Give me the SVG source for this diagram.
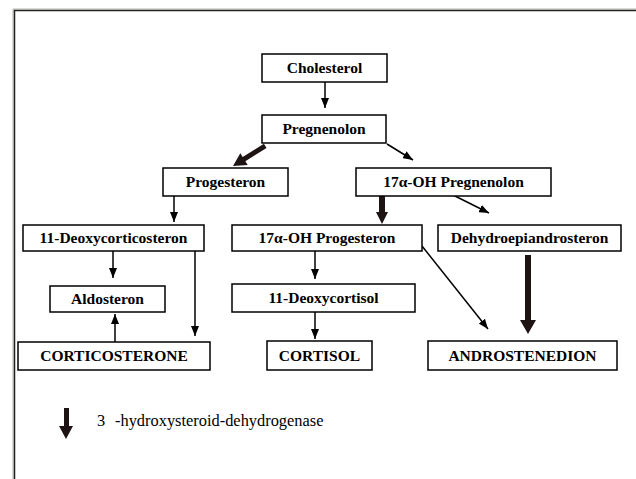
<svg xmlns="http://www.w3.org/2000/svg" width="636" height="479" viewBox="0 0 636 479">
<style>
.box{fill:#fff;stroke:#000;stroke-width:1.5}
.lbl{font-family:"Liberation Serif","Times New Roman",serif;font-weight:bold;font-size:15.5px;text-anchor:middle;fill:#000}
.leg{font-family:"Liberation Serif","Times New Roman",serif;font-size:16.4px;fill:#000}
.thin{stroke:#000;stroke-width:1.5;fill:none;marker-end:url(#ah)}
.thick{fill:#1e1414}
</style>
<defs>
<marker id="ah" markerUnits="userSpaceOnUse" markerWidth="10" markerHeight="8" refX="10" refY="4" orient="auto">
<path d="M0,0 L10,4 L0,8 z" fill="#000"/>
</marker>
</defs>
<rect width="636" height="479" fill="#fff"/>
<g id="frame">
<path d="M13,479 V9 H636" fill="none" stroke="#b8b4ac" stroke-width="1"/>
<path d="M14.5,479 V10.5 H636" fill="none" stroke="#222" stroke-width="1.5"/>
</g>
<g id="connectors">
<line class="thin" x1="325" y1="82" x2="325" y2="108"/>
<polygon class="thick" transform="translate(233,166) rotate(148)" points="-38,-2.5 -13,-2.5 -13,-7 0,0 -13,7 -13,2.5 -38,2.5"/>
<line class="thin" x1="387" y1="144" x2="413" y2="160"/>
<line class="thin" x1="174" y1="196" x2="174" y2="222"/>
<polygon class="thick" points="379,196 385,196 385,212 388,212 382,224 376,212 379,212"/>
<line class="thin" x1="451" y1="194" x2="489" y2="213"/>
<line class="thin" x1="113" y1="251" x2="113" y2="278"/>
<line class="thin" x1="115" y1="342" x2="115" y2="314"/>
<line class="thin" x1="195" y1="251" x2="195" y2="336"/>
<line class="thin" x1="315" y1="251" x2="315" y2="279"/>
<line class="thin" x1="315" y1="312" x2="315" y2="339"/>
<line class="thin" x1="422" y1="246" x2="488" y2="329"/>
<polygon class="thick" points="525,255 531,255 531,320 536,320 528,334 520,320 525,320"/>
</g>
<g id="n-cholesterol"><rect class="box" x="262" y="54" width="125" height="28"/><text class="lbl" x="324.5" y="73">Cholesterol</text></g>
<g id="n-pregnenolon"><rect class="box" x="262" y="115" width="124" height="28"/><text class="lbl" x="324" y="134">Pregnenolon</text></g>
<g id="n-progesteron"><rect class="box" x="163" y="168" width="125" height="28"/><text class="lbl" x="225.5" y="187">Progesteron</text></g>
<g id="n-17oh-pregnenolon"><rect class="box" x="356" y="168" width="195" height="28"/><text class="lbl" x="453.5" y="187">17α-OH Pregnenolon</text></g>
<g id="n-11-deoxycorticosteron"><rect class="box" x="23" y="225" width="181" height="26"/><text class="lbl" x="113.5" y="243">11-Deoxycorticosteron</text></g>
<g id="n-17oh-progesteron"><rect class="box" x="232" y="225" width="190" height="26"/><text class="lbl" x="327" y="243">17α-OH Progesteron</text></g>
<g id="n-dhea"><rect class="box" x="438" y="225" width="183" height="26"/><text class="lbl" x="529.5" y="243">Dehydroepiandrosteron</text></g>
<g id="n-aldosteron"><rect class="box" x="50" y="286" width="115" height="26"/><text class="lbl" x="107.5" y="304">Aldosteron</text></g>
<g id="n-11-deoxycortisol"><rect class="box" x="232" y="284" width="183" height="28"/><text class="lbl" x="323.5" y="303">11-Deoxycortisol</text></g>
<g id="n-corticosterone"><rect class="box" x="18" y="342" width="192" height="28"/><text class="lbl" x="114" y="361">CORTICOSTERONE</text></g>
<g id="n-cortisol"><rect class="box" x="267" y="341" width="105" height="29"/><text class="lbl" x="319.5" y="361">CORTISOL</text></g>
<g id="n-androstenedion"><rect class="box" x="428" y="341" width="189" height="29"/><text class="lbl" x="522.5" y="361">ANDROSTENEDION</text></g>
<g id="legend">
<polygon class="thick" points="64,408 69,408 69,426 73,426 66,439 59,426 64,426"/>
<text class="leg" x="97" y="426">3</text>
<text class="leg" x="115" y="426">-hydroxysteroid-dehydrogenase</text>
</g>
</svg>
